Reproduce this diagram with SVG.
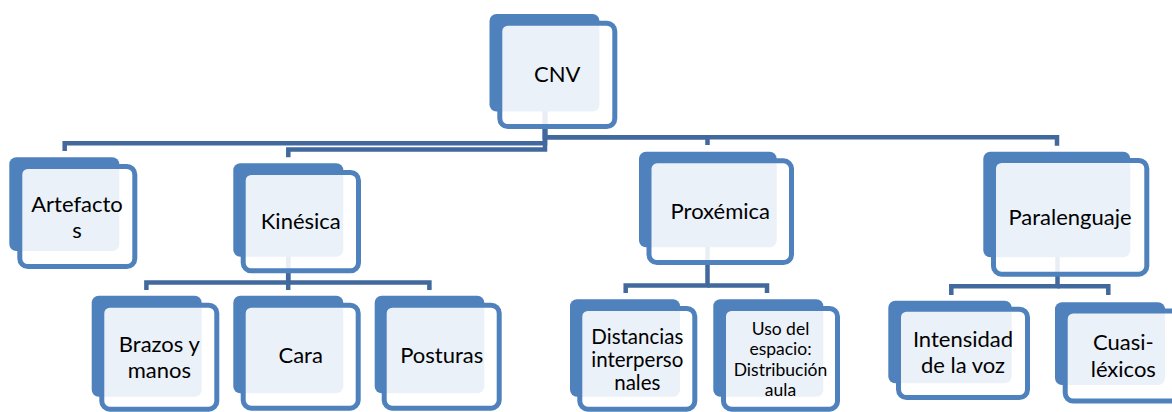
<svg xmlns="http://www.w3.org/2000/svg" width="1172" height="412" viewBox="0 0 1172 412">
<style>
.b{fill:#4F81BD}
.f{fill:#fff;fill-opacity:0.885;stroke:#4F81BD;stroke-width:5}
.t{font-family:Lato,"Liberation Sans",sans-serif;font-size:22px;fill:#000;text-anchor:middle}
.s2{font-size:20.5px}
.s3{font-size:17.5px}
.c{fill:none;stroke:#41699D;stroke-width:4.5;stroke-linejoin:miter}
</style>
<rect width="1172" height="412" fill="#fff"/>
<g id="connectors">
<path class="c" d="M545 111V143.3H64.7V151"/>
<path class="c" d="M545 111V149.4H288.3V157.3"/>
<path class="c" d="M545 111V137.2H707.5V145"/>
<path class="c" d="M545 111V137.2H1057V145.7"/>
<path class="c" d="M288.2 256V282.5H146.4V290"/>
<path class="c" d="M288.2 256V290"/>
<path class="c" d="M288.2 282.5H429.4V290"/>
<path class="c" d="M707.5 247V285.5H625.7V293"/>
<path class="c" d="M707.5 285.5H767V293"/>
<path class="c" d="M1057.5 257V286.2H951.3V295"/>
<path class="c" d="M1057.5 286.2H1108.3V295"/>
</g>
<g id="node-cnv">
<rect class="b" x="489.5" y="14" width="110" height="97.5" rx="7"/>
<rect class="f" x="499.8" y="23.2" width="115" height="103.3" rx="8"/>
<text class="t" x="557.3" y="81.7">CNV</text>
</g>
<g id="node-artefactos">
<rect class="b" x="9.3" y="157.3" width="110" height="93.7" rx="7"/>
<rect class="f" x="19.8" y="166.5" width="115" height="100" rx="8"/>
<text class="t" x="77" y="211.7">Artefacto</text>
<text class="t" x="77" y="237.5">s</text>
</g>
<g id="node-kinesica">
<rect class="b" x="233.3" y="163.3" width="110" height="93.4" rx="7"/>
<rect class="f" x="243.2" y="172.5" width="115.3" height="98.3" rx="8"/>
<text class="t" x="300.8" y="229.3">Kinésica</text>
</g>
<g id="node-proxemica">
<rect class="b" x="639" y="151.7" width="137.7" height="95.6" rx="7"/>
<rect class="f" x="649" y="160.8" width="142.5" height="101.7" rx="8"/>
<text class="t" x="720.3" y="219.3">Proxémica</text>
</g>
<g id="node-paralenguaje">
<rect class="b" x="983.3" y="151.7" width="147" height="105.6" rx="7"/>
<rect class="f" x="993.5" y="160.5" width="153.3" height="113.7" rx="8"/>
<text class="t" x="1070" y="225">Paralenguaje</text>
</g>
<g id="node-brazos">
<rect class="b" x="91.7" y="295.7" width="110" height="101" rx="7"/>
<rect class="f" x="101.8" y="305.2" width="115" height="104" rx="8"/>
<text class="t" x="159.3" y="351.7">Brazos y</text>
<text class="t" x="159.3" y="378.3">manos</text>
</g>
<g id="node-cara">
<rect class="b" x="233.3" y="295.7" width="110" height="97.6" rx="7"/>
<rect class="f" x="243.2" y="305.2" width="115" height="103" rx="8"/>
<text class="t" x="300.7" y="363.3">Cara</text>
</g>
<g id="node-posturas">
<rect class="b" x="374.7" y="295.7" width="109.6" height="97.6" rx="7"/>
<rect class="f" x="384.2" y="305.2" width="115" height="103" rx="8"/>
<text class="t" x="441.7" y="363.3">Posturas</text>
</g>
<g id="node-distancias">
<rect class="b" x="570" y="299.3" width="110" height="97.4" rx="7"/>
<rect class="f" x="579.8" y="308.5" width="115" height="100.7" rx="8"/>
<text class="t s2" x="637.3" y="343.5">Distancias</text>
<text class="t s2" x="637.3" y="366.7">interperso</text>
<text class="t s2" x="637.3" y="390">nales</text>
</g>
<g id="node-uso">
<rect class="b" x="713.3" y="299.3" width="110" height="97.4" rx="7"/>
<rect class="f" x="723.5" y="308.5" width="114" height="100.7" rx="8"/>
<text class="t s3" x="780.5" y="334.5">Uso del</text>
<text class="t s3" x="780.5" y="355">espacio:</text>
<text class="t s3" x="780.5" y="375.5">Distribución</text>
<text class="t s3" x="780.5" y="395.5">aula</text>
</g>
<g id="node-intensidad">
<rect class="b" x="888.3" y="300.7" width="123.4" height="82.6" rx="7"/>
<rect class="f" x="898.5" y="309.2" width="129" height="88.3" rx="8"/>
<text class="t" x="963" y="347">Intensidad</text>
<text class="t" x="963" y="373.3">de la voz</text>
</g>
<g id="node-cuasi">
<rect class="b" x="1055" y="302.3" width="110" height="82.7" rx="7"/>
<rect class="f" x="1065.2" y="311" width="115" height="90" rx="8"/>
<text class="t" x="1123.3" y="350">Cuasi-</text>
<text class="t" x="1123.3" y="376.7">léxicos</text>
</g>
</svg>
